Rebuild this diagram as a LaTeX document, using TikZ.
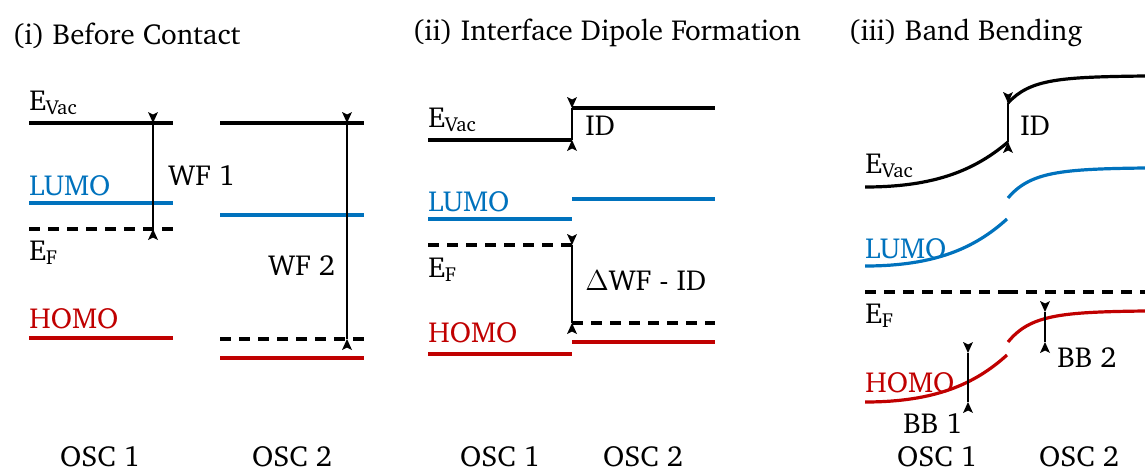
\documentclass[tikz,border=0pt]{standalone}
\usepackage[T1]{fontenc}
\usepackage{charter}
\definecolor{lumoblue}{HTML}{0072BD}
\definecolor{homored}{HTML}{C00000}

% a gap between two levels, tips sitting outside pointing in
\newcommand{\gaparrow}[2]{%
  \draw[gapline] (#1) -- (#2);
  \pic at (#1) {tipdn};
  \pic at (#2) {tipup};
}

\begin{document}
\begin{tikzpicture}[
    x=0.5pt, y=-0.5pt,
    every node/.style={font=\fontsize{14.5pt}{17pt}\selectfont, inner sep=0pt},
    lab/.style={anchor=base west},
    osc/.style={anchor=base},
    lvl/.style={line width=1.6pt},
    fermi/.style={line width=1.6pt, dash pattern=on 5.5pt off 4pt},
    gapline/.style={line width=0.9pt},
    tipdn/.pic={\fill (0,0) -- (-5,-11) -- (0,-8.5) -- (5,-11) -- cycle;},
    tipup/.pic={\fill (0,0) -- (-5,11) -- (0,8.5) -- (5,11) -- cycle;},
]
\useasboundingbox (0,0) rectangle (1145,471);

% (i) before contact
\node[lab] (ttlA) at (12,44) {(i) Before Contact};
\node[lab] (vacA) at (29,110) {E\textsubscript{Vac}};
\node[lab, text=lumoblue] (lumoA) at (29,195) {LUMO};
\node[lab] (efA) at (29,260) {E\textsubscript{F}};
\node[lab, text=homored] (homoA) at (29,328) {HOMO};

\draw[lvl] (29,123) -- (173,123);
\draw[lvl] (220,123) -- (364,123);
\draw[lvl, lumoblue] (29,203) -- (173,203);
\draw[lvl, lumoblue] (220,215) -- (364,215);
\draw[fermi] (29,229) -- (173,229);
\draw[fermi] (220,339) -- (364,339);
\draw[lvl, homored] (29,338) -- (173,338);
\draw[lvl, homored] (220,358) -- (364,358);

\coordinate (wf1t) at (153,123);
\coordinate (wf1b) at (153,229);
\coordinate (wf2t) at (347,123);
\coordinate (wf2b) at (347,339);
\gaparrow{wf1t}{wf1b}
\gaparrow{wf2t}{wf2b}
\node[lab] (wf1) at (168,185) {WF 1};
\node[lab] (wf2) at (268,275) {WF 2};

\node[osc] (osc1A) at (100,466) {OSC 1};
\node[osc] (osc2A) at (292,466) {OSC 2};

% (ii) interface dipole
\node[lab] (ttlB) at (412,40) {(ii) Interface Dipole Formation};
\node[lab] (vacB) at (428,127) {E\textsubscript{Vac}};
\node[lab, text=lumoblue] (lumoB) at (428,211) {LUMO};
\node[lab] (efB) at (428,277) {E\textsubscript{F}};
\node[lab, text=homored] (homoB) at (428,342) {HOMO};

\draw[lvl] (428,140) -- (572,140);
\draw[lvl] (572,108) -- (715,108);
\draw[lvl, lumoblue] (428,219) -- (572,219);
\draw[lvl, lumoblue] (572,199) -- (715,199);
\draw[fermi] (428,245) -- (572,245);
\draw[fermi] (572,323) -- (715,323);
\draw[lvl, homored] (428,354) -- (572,354);
\draw[lvl, homored] (572,342) -- (715,342);

\coordinate (idBt) at (572,108);
\coordinate (idBb) at (572,140);
\coordinate (dwft) at (572,245);
\coordinate (dwfb) at (572,323);
\gaparrow{idBt}{idBb}
\gaparrow{dwft}{dwfb}
\node[lab] (idB) at (585,135) {ID};
\node[lab] (dwf) at (585,290) {$\Delta$WF - ID};

\node[osc] (osc1B) at (500,466) {OSC 1};
\node[osc] (osc2B) at (643,466) {OSC 2};

% (iii) band bending
\node[lab] (ttlC) at (848,40) {(iii) Band Bending};
\node[lab] (vacC) at (865,173) {E\textsubscript{Vac}};
\node[lab, text=lumoblue] (lumoC) at (865,258) {LUMO};
\node[lab] (efC) at (865,323) {E\textsubscript{F}};
\node[lab, text=homored] (homoC) at (865,392) {HOMO};

\draw[lvl] (865,187) .. controls (935,187) and (975,170) .. (1008,142);
\draw[lvl] (1008,103) .. controls (1030,79) and (1060,77) .. (1145,76);
\draw[lvl, lumoblue] (865,266) .. controls (935,266) and (975,248) .. (1007,219);
\draw[lvl, lumoblue] (1008,198) .. controls (1030,172) and (1060,169) .. (1145,168);
\draw[fermi] (865,292) -- (1007,292);
\draw[fermi] (1007,292) -- (1145,292);
\draw[lvl, homored] (865,402) .. controls (935,402) and (975,384) .. (1007,355);
\draw[lvl, homored] (1008,342) .. controls (1030,315) and (1060,312) .. (1145,311);

\coordinate (idCt) at (1008,103);
\coordinate (idCb) at (1008,142);
\coordinate (bb1t) at (968,353);
\coordinate (bb1b) at (968,402);
\coordinate (bb2t) at (1045,312);
\coordinate (bb2b) at (1045,342);
\gaparrow{idCt}{idCb}
\gaparrow{bb1t}{bb1b}
\gaparrow{bb2t}{bb2b}
\node[lab] (idC) at (1020,135) {ID};
\node[lab] (bb1) at (903,433) {BB 1};
\node[lab] (bb2) at (1057,367) {BB 2};

\node[osc] (osc1C) at (937,466) {OSC 1};
\node[osc] (osc2C) at (1079,466) {OSC 2};
\end{tikzpicture}
\end{document}
